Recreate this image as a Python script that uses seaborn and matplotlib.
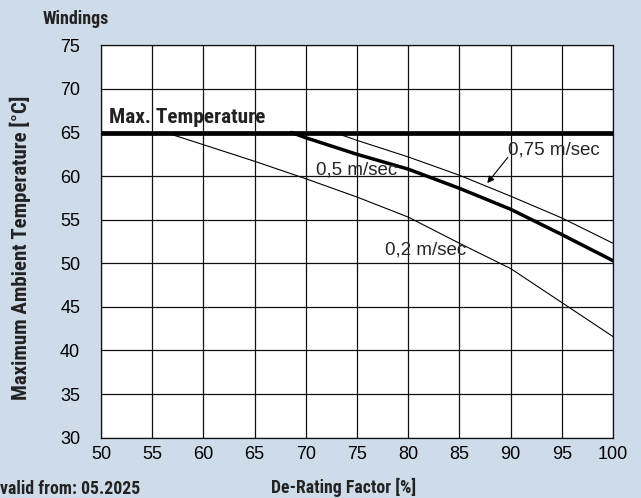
import seaborn as sns
import pandas as pd
from matplotlib import pyplot as plt

# de-rating curves (x = de-rating factor %, y = max ambient temp)
x_02 = [56.3, 60, 65, 70, 75, 80, 85, 90, 95, 100]
y_02 = [65.0, 63.6, 61.7, 59.7, 57.6, 55.3, 52.3, 49.4, 45.5, 41.6]
x_05 = [68.6, 70, 75, 80, 85, 90, 95, 100]
y_05 = [65.0, 64.4, 62.5, 60.8, 58.6, 56.2, 53.3, 50.3]
x_075 = [72.8, 75, 80, 85, 90, 95, 100]
y_075 = [65.0, 64.1, 62.2, 60.1, 57.7, 55.2, 52.3]
max_temp = 65

x_ticks = [50, 55, 60, 65, 70, 75, 80, 85, 90, 95, 100]
y_ticks = [30, 35, 40, 45, 50, 55, 60, 65, 70, 75]

BG = '#cedbe8'
NARROW = ['DejaVu Sans Condensed', 'Roboto Condensed', 'Roboto', 'DejaVu Sans']

sns.set_style("white")
plt.rcParams['font.family'] = ['Liberation Sans', 'DejaVu Sans']

df_02 = pd.DataFrame({'factor': x_02, 'temp': y_02})
df_05 = pd.DataFrame({'factor': x_05, 'temp': y_05})
df_075 = pd.DataFrame({'factor': x_075, 'temp': y_075})

fig = plt.figure(figsize=(6.41, 4.98), dpi=100, facecolor=BG)
ax = fig.add_axes([0.1576, 0.1211, 0.7987, 0.7879])
ax.set_facecolor('white')

sns.lineplot(data=df_02, x='factor', y='temp', ax=ax, color='black', lw=0.8)
sns.lineplot(data=df_075, x='factor', y='temp', ax=ax, color='black', lw=0.8)
sns.lineplot(data=df_05, x='factor', y='temp', ax=ax, color='black', lw=2.5)
ax.axhline(max_temp, color='black', lw=3.4, zorder=5)

ax.set_xlim(50, 100)
ax.set_ylim(30, 75)
ax.set_xticks(x_ticks)
ax.set_yticks(y_ticks)
ax.grid(True, color='#111111', lw=0.9)
ax.set_axisbelow(True)
for s in ax.spines.values():
    s.set_color('#111111')
    s.set_linewidth(0.9)
ax.tick_params(axis='both', length=0, labelsize=13, colors='black')
ax.tick_params(axis='x', pad=6)
ax.tick_params(axis='y', pad=15)
ax.set_xlabel('')
ax.set_ylabel('')

ax.text(50.8, 66.1, 'Max. Temperature', family=NARROW, fontweight='bold',
        fontsize=15.3, color='#222222', va='baseline', ha='left')
ax.text(71.0, 60.7, '0,5 m/sec', fontsize=13.5, va='center', ha='left')
ax.text(77.7, 51.5, '0,2 m/sec', fontsize=13.5, va='center', ha='left')
ax.text(89.75, 63.0, '0,75 m/sec', fontsize=13.5, va='center', ha='left')
ax.annotate('', xy=(87.55, 58.95), xytext=(89.9, 62.4),
            arrowprops=dict(arrowstyle='-|>', color='black', lw=0.8, mutation_scale=10))

fig.text(43 / 641, 1 - 19 / 498, 'Windings', family=NARROW, fontweight='bold',
         fontsize=13, color='#222222', va='center', ha='left')
fig.text(20 / 641, 1 - 248 / 498, 'Maximum Ambient Temperature [°C]', family=NARROW,
         fontweight='bold', fontsize=15, color='#222222', rotation=90, va='center', ha='center')
fig.text(344 / 641, 1 - 487 / 498, 'De-Rating Factor [%]', family=NARROW,
         fontweight='bold', fontsize=12.8, color='#222222', va='center', ha='center')
fig.text(0.0, 0.0, 'valid from: 05.2025', family=NARROW, fontweight='bold',
         fontsize=12.8, color='#222222', va='bottom', ha='left')

fig.savefig('out.png', dpi=100, facecolor=BG)
